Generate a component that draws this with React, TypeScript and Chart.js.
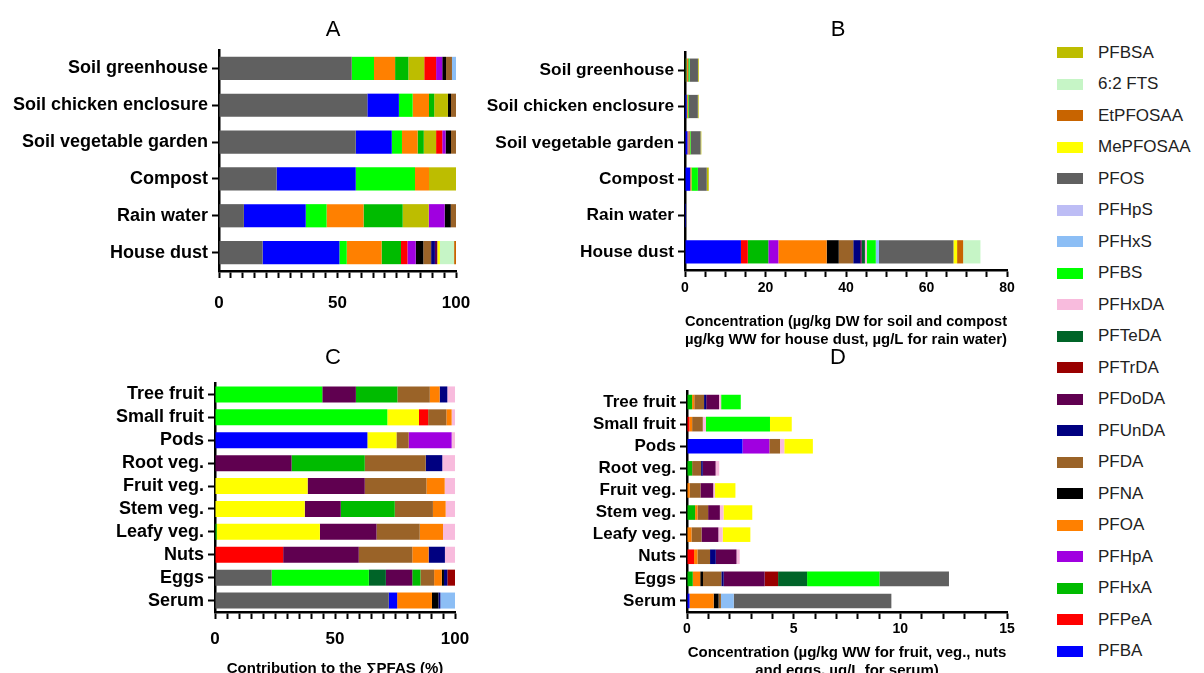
import React, { useEffect, useRef } from 'react';
import { Chart, registerables } from 'chart.js';

Chart.register(...registerables);

const FONT = "'Liberation Sans', Arial, Helvetica, sans-serif";

// Stacking order of compounds (left to right in panels B and D)
const compoundNames = [
  'PFBA', 'PFPeA', 'PFHxA', 'PFHpA', 'PFOA', 'PFNA', 'PFDA', 'PFUnDA', 'PFDoDA', 'PFTrDA',
  'PFTeDA', 'PFHxDA', 'PFBS', 'PFHxS', 'PFHpS', 'PFOS', 'MePFOSAA', 'EtPFOSAA', '6:2 FTS', 'PFBSA',
];
const compoundColors = [
  '#0000FF', '#FF0000', '#00BB00', '#A000E0', '#FF8000', '#000000', '#9A6328', '#000080', '#600050', '#990000',
  '#006428', '#F8BBDD', '#00FF00', '#8CBEF5', '#BDBDF5', '#606060', '#FFFF00', '#C86400', '#C6F5C6', '#BDBD00',
];

const envCategories = ['Soil greenhouse', 'Soil chicken enclosure', 'Soil vegetable garden', 'Compost', 'Rain water', 'House dust'];
const foodCategories = ['Tree fruit', 'Small fruit', 'Pods', 'Root veg.', 'Fruit veg.', 'Stem veg.', 'Leafy veg.', 'Nuts', 'Eggs', 'Serum'];

const aTickLabels = [0, 50, 100];
const bTickLabels = [0, 20, 40, 60, 80];
const cTickLabels = [0, 50, 100];
const dTickLabels = [0, 5, 10, 15];

// Panel A: contribution (%), segments in drawn order
const aSoilGreenhouse: [string, number][] = [['PFOS', 56], ['PFBS', 9.4], ['PFOA', 8.9], ['PFHxA', 5.6], ['PFBSA', 6.7], ['PFPeA', 5.0], ['PFHpA', 2.6], ['PFNA', 1.6], ['PFDA', 2.5], ['PFHxS', 1.7]];
const aSoilChicken: [string, number][] = [['PFOS', 62.6], ['PFBA', 13.3], ['PFBS', 5.8], ['PFOA', 6.9], ['PFHxA', 2.2], ['PFBSA', 5.8], ['PFNA', 1.3], ['PFDA', 2.1]];
const aSoilVegetable: [string, number][] = [['PFOS', 57.7], ['PFBA', 15.2], ['PFBS', 4.3], ['PFOA', 6.6], ['PFHxA', 2.6], ['PFBSA', 5.2], ['PFPeA', 2.6], ['PFHpA', 1.4], ['PFNA', 2.3], ['PFDA', 2.1]];
const aCompost: [string, number][] = [['PFOS', 24.3], ['PFBA', 33.4], ['PFBS', 25.0], ['PFOA', 5.9], ['PFBSA', 11.4]];
const aRainWater: [string, number][] = [['PFOS', 10.5], ['PFBA', 26.1], ['PFBS', 8.8], ['PFOA', 15.6], ['PFHxA', 16.5], ['PFBSA', 11.0], ['PFHpA', 6.7], ['PFNA', 2.6], ['PFDA', 2.2]];
const aHouseDust: [string, number][] = [['PFOS', 18.4], ['PFBA', 32.4], ['PFBS', 3.1], ['PFOA', 14.7], ['PFHxA', 8.2], ['PFPeA', 2.7], ['PFHpA', 3.5], ['PFNA', 3.2], ['PFDA', 3.3], ['PFUnDA', 1.6], ['PFDoDA', 1.0], ['MePFOSAA', 1.1], ['6:2 FTS', 6.0], ['EtPFOSAA', 0.8]];

// Panel B: concentrations, values in compoundNames order
const bSoilGreenhouse = [0, 0.15, 0.2, 0.08, 0.3, 0.05, 0.08, 0, 0, 0, 0, 0, 0.3, 0.06, 0, 2.0, 0, 0, 0, 0.2];
const bSoilChicken = [0.4, 0, 0.07, 0, 0.22, 0.04, 0.07, 0, 0, 0, 0, 0, 0.19, 0, 0, 2.2, 0, 0, 0, 0.2];
const bSoilVegetable = [0.6, 0.1, 0.1, 0.06, 0.26, 0.09, 0.08, 0, 0, 0, 0, 0, 0.17, 0, 0, 2.4, 0, 0, 0, 0.2];
const bCompost = [1.3, 0, 0, 0, 0.3, 0, 0, 0, 0, 0, 0, 0, 1.6, 0, 0, 2.2, 0, 0, 0, 0.5];
const bRainWater = [0.003, 0, 0.002, 0.001, 0.002, 0, 0, 0, 0, 0, 0, 0, 0.001, 0, 0, 0.001, 0, 0, 0, 0.001];
const bHouseDust = [13.9, 1.7, 5.1, 2.5, 12.0, 3.0, 3.6, 1.7, 0.4, 0, 0.8, 0.5, 2.2, 0.8, 0, 18.5, 0.9, 1.5, 4.3, 0];

// Panel C: contribution (%), segments in drawn order
const cTreeFruit: [string, number][] = [['PFBS', 44.7], ['PFDoDA', 14.0], ['PFHxA', 17.3], ['PFDA', 13.5], ['PFOA', 4.1], ['PFUnDA', 3.2], ['PFHxDA', 3.2]];
const cSmallFruit: [string, number][] = [['PFBS', 71.8], ['MePFOSAA', 13.2], ['PFPeA', 3.8], ['PFDA', 7.6], ['PFOA', 2.2], ['PFHxDA', 1.4]];
const cPods: [string, number][] = [['PFBA', 63.5], ['MePFOSAA', 12.1], ['PFDA', 5.1], ['PFHpA', 17.9], ['PFHxDA', 1.4]];
const cRootVeg: [string, number][] = [['PFDoDA', 31.9], ['PFHxA', 30.5], ['PFDA', 25.4], ['PFUnDA', 6.9], ['PFHxDA', 5.3]];
const cFruitVeg: [string, number][] = [['MePFOSAA', 38.6], ['PFDoDA', 23.8], ['PFDA', 25.7], ['PFOA', 7.6], ['PFHxDA', 4.3]];
const cStemVeg: [string, number][] = [['MePFOSAA', 37.4], ['PFDoDA', 15.0], ['PFHxA', 22.5], ['PFDA', 15.9], ['PFOA', 5.3], ['PFHxDA', 3.9]];
const cLeafyVeg: [string, number][] = [['PFHxA', 0.7], ['MePFOSAA', 43.0], ['PFDoDA', 23.6], ['PFDA', 18.0], ['PFOA', 9.7], ['PFHxDA', 5.0]];
const cNuts: [string, number][] = [['PFPeA', 28.4], ['PFDoDA', 31.5], ['PFDA', 22.3], ['PFOA', 6.8], ['PFUnDA', 6.8], ['PFHxDA', 4.2]];
const cEggs: [string, number][] = [['PFOS', 23.6], ['PFBS', 40.5], ['PFTeDA', 7.1], ['PFDoDA', 11.0], ['PFHxA', 3.4], ['PFDA', 5.7], ['PFOA', 3.2], ['PFNA', 0.9], ['PFUnDA', 1.4], ['PFTrDA', 3.2]];
const cSerum: [string, number][] = [['PFOS', 72.4], ['PFBA', 3.5], ['PFOA', 14.5], ['PFNA', 2.7], ['PFUnDA', 0.8], ['PFHxS', 6.1]];

// Panel D: concentrations, values in compoundNames order
const dTreeFruit = [0, 0, 0.24, 0, 0.1, 0, 0.46, 0.1, 0.6, 0, 0, 0.1, 0.92, 0, 0, 0, 0, 0, 0, 0];
const dSmallFruit = [0, 0.11, 0, 0, 0.13, 0, 0.5, 0, 0, 0, 0, 0.15, 3.0, 0, 0, 0, 1.02, 0, 0, 0];
const dPods = [2.6, 0, 0, 1.26, 0, 0, 0.5, 0, 0, 0, 0, 0.2, 0, 0, 0, 0, 1.34, 0, 0, 0];
const dRootVeg = [0, 0, 0.24, 0, 0, 0, 0.42, 0.08, 0.6, 0, 0, 0.17, 0, 0, 0, 0, 0, 0, 0, 0];
const dFruitVeg = [0, 0, 0, 0, 0.13, 0, 0.5, 0, 0.6, 0, 0, 0.08, 0, 0, 0, 0, 0.96, 0, 0, 0];
const dStemVeg = [0, 0, 0.38, 0, 0.11, 0, 0.5, 0, 0.55, 0, 0, 0.17, 0, 0, 0, 0, 1.35, 0, 0, 0];
const dLeafyVeg = [0, 0, 0, 0, 0.21, 0, 0.47, 0, 0.79, 0, 0, 0.2, 0, 0, 0, 0, 1.3, 0, 0, 0];
const dNuts = [0, 0.33, 0, 0, 0.16, 0, 0.59, 0.27, 0.97, 0, 0, 0.15, 0, 0, 0, 0, 0, 0, 0, 0];
const dEggs = [0, 0, 0.27, 0, 0.35, 0.13, 0.86, 0.11, 1.92, 0.63, 1.36, 0, 3.39, 0, 0, 3.26, 0, 0, 0, 0];
const dSerum = [0.12, 0, 0, 0, 1.13, 0.23, 0.11, 0, 0, 0, 0, 0, 0, 0.6, 0, 7.39, 0, 0, 0, 0];

const aRows = [aSoilGreenhouse, aSoilChicken, aSoilVegetable, aCompost, aRainWater, aHouseDust];
const bRows = [bSoilGreenhouse, bSoilChicken, bSoilVegetable, bCompost, bRainWater, bHouseDust];
const cRows = [cTreeFruit, cSmallFruit, cPods, cRootVeg, cFruitVeg, cStemVeg, cLeafyVeg, cNuts, cEggs, cSerum];
const dRows = [dTreeFruit, dSmallFruit, dPods, dRootVeg, dFruitVeg, dStemVeg, dLeafyVeg, dNuts, dEggs, dSerum];

const colorOf = (name: string) => compoundColors[compoundNames.indexOf(name)];

function fixedDatasets(rows: number[][]) {
  return compoundNames.map((name, ci) => ({
    label: name,
    data: rows.map((r) => r[ci]),
    backgroundColor: compoundColors[ci],
    borderWidth: 0,
  }));
}

function sortedDatasets(rows: [string, number][][]) {
  const n = Math.max(...rows.map((r) => r.length));
  const out: any[] = [];
  for (let s = 0; s < n; s++) {
    out.push({
      label: 'segment ' + (s + 1),
      data: rows.map((r) => (r[s] ? r[s][1] : 0)),
      backgroundColor: rows.map((r) => (r[s] ? colorOf(r[s][0]) : 'rgba(0,0,0,0)')),
      borderWidth: 0,
    });
  }
  return out;
}

const letterPlugin = {
  id: 'panelLetter',
  afterDraw(chart: any, _args: any, opts: any) {
    const ctx = chart.ctx;
    ctx.save();
    ctx.font = `22px ${FONT}`;
    ctx.fillStyle = '#000';
    ctx.textAlign = 'center';
    ctx.textBaseline = 'middle';
    ctx.fillText(opts.text, opts.x, opts.y);
    ctx.restore();
  },
};

type Spec = {
  left: number; top: number; width: number; height: number;
  letter: string; letterX: number; letterY: number;
  categories: string[]; datasets: any[];
  max: number; step: number; tickLabels: number[];
  yWidth: number; xHeight: number; padTop: number; padRight: number;
  catPct: number; catFont: number; tickFont: number; tickPad: number;
  title?: string | string[]; titlePadBottom?: number;
};

function makeConfig(p: Spec): any {
  return {
    type: 'bar',
    data: { labels: p.categories, datasets: p.datasets },
    options: {
      indexAxis: 'y',
      responsive: false,
      maintainAspectRatio: false,
      animation: false,
      devicePixelRatio: 1,
      layout: { padding: { left: 0, right: p.padRight, top: p.padTop, bottom: 0 } },
      datasets: { bar: { categoryPercentage: p.catPct, barPercentage: 1, borderWidth: 0 } },
      plugins: {
        legend: { display: false },
        tooltip: { enabled: false },
        panelLetter: { text: p.letter, x: p.letterX, y: p.letterY },
      },
      scales: {
        x: {
          type: 'linear',
          stacked: true,
          min: 0,
          max: p.max,
          afterFit: (s: any) => {
            s.height = p.xHeight;
            s.paddingLeft = 0;
            s.paddingRight = 0;
          },
          ticks: {
            stepSize: p.step,
            autoSkip: false,
            maxRotation: 0,
            color: '#000',
            padding: p.tickPad,
            font: { family: FONT, size: p.tickFont, weight: 'bold' },
            callback: (v: any) => (p.tickLabels.includes(Number(v)) ? String(v) : ''),
          },
          grid: { display: true, drawOnChartArea: false, drawTicks: true, tickLength: 7, tickWidth: 2, tickColor: '#000' },
          border: { display: true, color: '#000', width: 2.5 },
          title: p.title
            ? {
                display: true,
                text: p.title,
                color: '#000',
                font: { family: FONT, size: 15, weight: 'bold', lineHeight: 1.15 },
                padding: { top: 0, bottom: p.titlePadBottom || 0 },
              }
            : { display: false },
        },
        y: {
          type: 'category',
          stacked: true,
          offset: true,
          afterFit: (s: any) => {
            s.width = p.yWidth;
            s.paddingTop = 0;
            s.paddingBottom = 0;
          },
          ticks: {
            autoSkip: false,
            color: '#000',
            padding: 4,
            font: { family: FONT, size: p.catFont, weight: 'bold' },
          },
          grid: { display: true, drawOnChartArea: false, offset: false, drawTicks: true, tickLength: 7, tickWidth: 2, tickColor: '#000' },
          border: { display: true, color: '#000', width: 2.5 },
        },
      },
    },
    plugins: [letterPlugin],
  };
}

function Panel({ spec }: { spec: Spec }) {
  const ref = useRef<HTMLCanvasElement | null>(null);
  useEffect(() => {
    if (!ref.current) return;
    const chart = new Chart(ref.current, makeConfig(spec));
    return () => chart.destroy();
  }, [spec]);
  return (
    <div style={{ position: 'absolute', left: spec.left, top: spec.top, width: spec.width, height: spec.height }}>
      <canvas ref={ref} width={spec.width} height={spec.height} style={{ width: spec.width, height: spec.height, display: 'block' }} />
    </div>
  );
}

const specA: Spec = {
  left: 0, top: 0, width: 470, height: 320,
  letter: 'A', letterX: 333, letterY: 30,
  categories: envCategories, datasets: sortedDatasets(aRows),
  max: 100, step: 5, tickLabels: aTickLabels,
  yWidth: 219, xHeight: 49, padTop: 50, padRight: 14,
  catPct: 0.63, catFont: 18, tickFont: 17, tickPad: 15,
};
const specB: Spec = {
  left: 470, top: 0, width: 560, height: 360,
  letter: 'B', letterX: 368, letterY: 30,
  categories: envCategories, datasets: fixedDatasets(bRows),
  max: 80, step: 5, tickLabels: bTickLabels,
  yWidth: 215, xHeight: 90, padTop: 52, padRight: 23,
  catPct: 0.64, catFont: 17.3, tickFont: 14, tickPad: 3,
  title: ['Concentration (µg/kg DW for soil and compost', 'µg/kg WW for house dust, µg/L for rain water)'],
  titlePadBottom: 12,
};
const specC: Spec = {
  left: 0, top: 330, width: 470, height: 360,
  letter: 'C', letterX: 333, letterY: 28,
  categories: foodCategories, datasets: sortedDatasets(cRows),
  max: 100, step: 5, tickLabels: cTickLabels,
  yWidth: 215, xHeight: 78, padTop: 53, padRight: 15,
  catPct: 0.7, catFont: 18, tickFont: 17, tickPad: 10,
  title: 'Contribution to the ∑PFAS (%)', titlePadBottom: 13,
};
const specD: Spec = {
  left: 470, top: 330, width: 560, height: 360,
  letter: 'D', letterX: 368, letterY: 28,
  categories: foodCategories, datasets: fixedDatasets(dRows),
  max: 15, step: 1, tickLabels: dTickLabels,
  yWidth: 217, xHeight: 78, padTop: 61, padRight: 23,
  catPct: 0.66, catFont: 17, tickFont: 14, tickPad: 2,
  title: ['Concentration (µg/kg WW for fruit, veg., nuts', 'and eggs, µg/L for serum)'],
  titlePadBottom: 11,
};

function Legend() {
  const items = compoundNames.map((n, i) => ({ name: n, color: compoundColors[i] })).reverse();
  return (
    <div style={{ position: 'absolute', left: 1057, top: 37, fontFamily: FONT }}>
      {items.map((it) => (
        <div key={it.name} style={{ display: 'flex', alignItems: 'center', height: 31.5 }}>
          <div style={{ width: 26, height: 11, background: it.color, marginRight: 15 }} />
          <span style={{ fontSize: 17, color: '#222', whiteSpace: 'nowrap' }}>{it.name}</span>
        </div>
      ))}
    </div>
  );
}

export default function App() {
  return (
    <div style={{ position: 'absolute', left: 0, top: 0, width: 1204, height: 673, overflow: 'hidden', background: '#fff' }}>
      <Panel spec={specA} />
      <Panel spec={specB} />
      <Panel spec={specC} />
      <Panel spec={specD} />
      <Legend />
    </div>
  );
}
